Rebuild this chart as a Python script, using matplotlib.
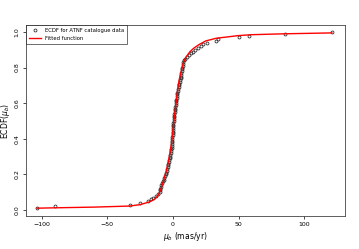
import matplotlib
matplotlib.use("Agg")
import matplotlib.pyplot as plt
import numpy as np

# proper motion values (mas/yr), sorted
mu_b = [-103.5, -90, -33, -25, -19, -17, -15, -13, -11, -10,
        -9.8, -9.5, -9.2, -8.8, -8.4,
        -7.6, -7.1, -6.6, -6.1, -5.6, -5.1, -4.7, -4.3, -4.0,
        -3.7, -3.4, -3.1, -2.8, -2.5, -2.2, -1.9, -1.6, -1.4, -1.2, -1.0,
        -0.9, -0.8, -0.7, -0.6, -0.5, -0.4, -0.3, -0.2, -0.1, 0.0,
        0.1, 0.2, 0.3, 0.4, 0.5, 0.6, 0.7, 0.85, 1.0,
        1.2, 1.4, 1.6, 1.8, 2.0, 2.2, 2.4, 2.6, 2.8, 3.0, 3.2, 3.4,
        3.7, 4.0, 4.3, 4.6, 4.9, 5.2, 5.5, 5.8, 6.1,
        6.3, 6.5, 6.7, 6.9, 7.1, 7.3, 7.5, 7.7,
        8.5, 9.5, 10.5, 12, 13.5, 15, 17, 19, 21, 23, 26,
        32.5, 34, 50, 58, 85.5, 121]

# fitted function
fit_x = [-103.5, -90, -60, -33, -25, -18, -14, -11, -9, -7, -5, -3, -1, 0,
         1, 2, 3, 4, 5, 6, 7, 8, 10, 13, 16, 20, 25, 33, 50, 60, 85, 121]
fit_y = [0.01, 0.012, 0.016, 0.022, 0.03, 0.045, 0.06, 0.085, 0.12, 0.17,
         0.22, 0.29, 0.38, 0.45, 0.52, 0.58, 0.64, 0.70, 0.74, 0.77, 0.80,
         0.83, 0.86, 0.89, 0.91, 0.93, 0.95, 0.965, 0.98, 0.985, 0.99, 0.995]

x = np.sort(np.array(mu_b))
ecdf = np.arange(1, len(x) + 1) / len(x)

fig = plt.figure(figsize=(3.59, 2.49), dpi=100)
ax = fig.add_axes([0.072, 0.1325, 0.889, 0.7675])

ax.plot(x, ecdf, "o", mfc="none", mec="#333333", ms=2.1, mew=0.6,
        label="ECDF for ATNF catalogue data")
ax.plot(fit_x, fit_y, "-", color="red", lw=1.0, label="Fitted function")

ax.set_xlim(-112, 131)
ax.set_ylim(-0.034, 1.04)
ax.set_xticks([-100, -50, 0, 50, 100])
ax.set_yticks([0.0, 0.2, 0.4, 0.6, 0.8, 1.0])
ax.set_yticklabels(["0.0", "0.2", "0.4", "0.6", "0.8", "1.0"], rotation=90, va="center")
ax.tick_params(labelsize=4.5, length=2.5, width=0.5, pad=2)
for s in ax.spines.values():
    s.set_linewidth(0.6)
    s.set_color("#444444")

ax.set_xlabel(r"$\mu_b$ (mas/yr)", fontsize=5.5, labelpad=2)
ax.set_ylabel(r"ECDF($\mu_b$)", fontsize=5.5, labelpad=2)

leg = ax.legend(loc="upper left", fontsize=3.8, frameon=True, fancybox=False,
                borderaxespad=0, handlelength=2.2, borderpad=0.6)
leg.get_frame().set_edgecolor("black")
leg.get_frame().set_linewidth(0.5)

plt.savefig("out.png", dpi=100)
plt.close()
